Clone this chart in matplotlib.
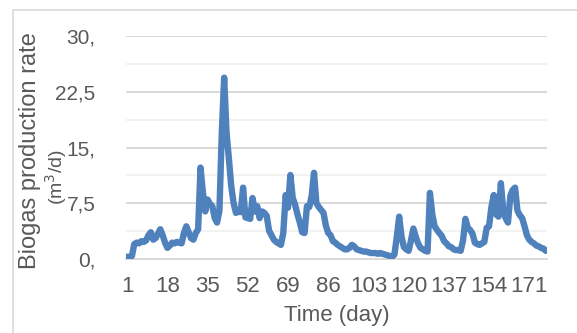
import numpy as np
import matplotlib.pyplot as plt
from matplotlib.ticker import MultipleLocator, FixedLocator
from matplotlib.patches import Rectangle

plt.rcParams['font.family'] = ['Liberation Sans', 'DejaVu Sans']

# biogas production rate per day (m3/d)
biogas = [
    0.3, 0.3, 0.4, 2.0, 2.2, 2.1, 2.4, 2.3, 2.5, 3.2,
    3.6, 2.6, 2.8, 3.4, 4.0, 3.2, 2.2, 1.5, 1.8, 2.2,
    2.1, 2.3, 2.2, 2.1, 3.5, 4.4, 3.6, 2.8, 2.6, 3.5,
    4.0, 12.3, 9.0, 6.4, 8.0, 7.4, 7.1, 5.5, 4.9, 6.5,
    17.0, 24.4, 17.0, 13.5, 9.8, 7.5, 6.2, 6.4, 6.3, 9.6,
    5.6, 5.5, 5.4, 8.2, 6.4, 7.1, 5.5, 6.4, 6.2, 5.8,
    3.8, 3.2, 2.6, 2.3, 2.1, 1.9, 3.5, 8.6, 6.9, 11.3,
    8.2, 7.3, 6.0, 4.9, 3.6, 3.5, 7.1, 7.0, 8.5, 11.6,
    7.5, 7.0, 6.6, 6.2, 4.5, 3.5, 3.2, 2.4, 2.2, 1.9,
    1.7, 1.5, 1.3, 1.3, 1.5, 1.9, 1.7, 1.3, 1.2, 1.1,
    1.0, 1.0, 0.9, 0.8, 0.8, 0.8, 0.7, 0.8, 0.7, 0.6,
    0.5, 0.4, 0.3, 0.6, 3.0, 5.7, 3.0, 1.6, 1.3, 1.1,
    2.5, 4.1, 3.0, 2.1, 1.5, 1.3, 1.1, 1.0, 8.9, 6.0,
    4.4, 3.9, 3.5, 3.1, 2.4, 2.1, 1.7, 1.6, 1.3, 1.2,
    1.2, 1.1, 2.5, 5.4, 4.2, 3.9, 3.4, 2.2, 2.0, 1.9,
    2.1, 2.3, 4.2, 4.4, 7.0, 8.6, 6.0, 5.7, 10.2, 6.5,
    5.5, 4.9, 8.5, 9.3, 9.6, 6.5, 5.9, 5.5, 4.4, 3.2,
    2.6, 2.3, 2.1, 1.8, 1.7, 1.5, 1.4, 1.1,
]
days = np.arange(1, len(biogas) + 1)

x_ticks = [1, 18, 35, 52, 69, 86, 103, 120, 137, 154, 171]
y_ticks = [0, 7.5, 15, 22.5, 30]
y_labels = ['0,', '7,5', '15,', '22,5', '30,']

gray = '#595959'

fig = plt.figure(figsize=(5.77, 3.33), dpi=100)
# chart border
fig.patches.append(Rectangle((13 / 577, -0.1), 1.0, 1 - 10 / 333 + 0.1,
                             transform=fig.transFigure, fill=False,
                             edgecolor='#d9d9d9', linewidth=1.2))

ax = fig.add_axes([126 / 577, 1 - 259 / 333, (547 - 126) / 577, (259 - 36) / 333])
ax.plot(days, biogas, color='#4f81bd', linewidth=4.6,
        solid_joinstyle='round', solid_capstyle='round', zorder=3)

ax.set_xlim(0.5, len(biogas) + 0.5)
ax.set_ylim(0, 30)
ax.xaxis.set_major_locator(FixedLocator(x_ticks))
ax.set_yticks(y_ticks)
ax.set_yticklabels(y_labels)
ax.yaxis.set_minor_locator(MultipleLocator(3.75))

ax.grid(axis='y', which='major', color='#d9d9d9', linewidth=1.4)
ax.grid(axis='y', which='minor', color='#f2f2f2', linewidth=1.4)
ax.set_axisbelow(True)
for s in ['top', 'right', 'left']:
    ax.spines[s].set_visible(False)
ax.spines['bottom'].set_color('#d9d9d9')
ax.spines['bottom'].set_linewidth(1.4)

ax.tick_params(axis='both', which='both', length=0, labelcolor=gray)
ax.tick_params(axis='x', labelsize=16, pad=12)
ax.tick_params(axis='y', labelsize=15, pad=22)

ax.set_xlabel('Time (day)', fontsize=16, color=gray, labelpad=6)
fig.text(30 / 577, 1 - 151 / 333, 'Biogas production rate', rotation=90,
         fontsize=17, color=gray, ha='center', va='center')
fig.text(56 / 577, 1 - 177 / 333, '(m$^3$/d)', rotation=90,
         fontsize=14, color=gray, ha='center', va='center')

fig.savefig('out.png', dpi=100)
